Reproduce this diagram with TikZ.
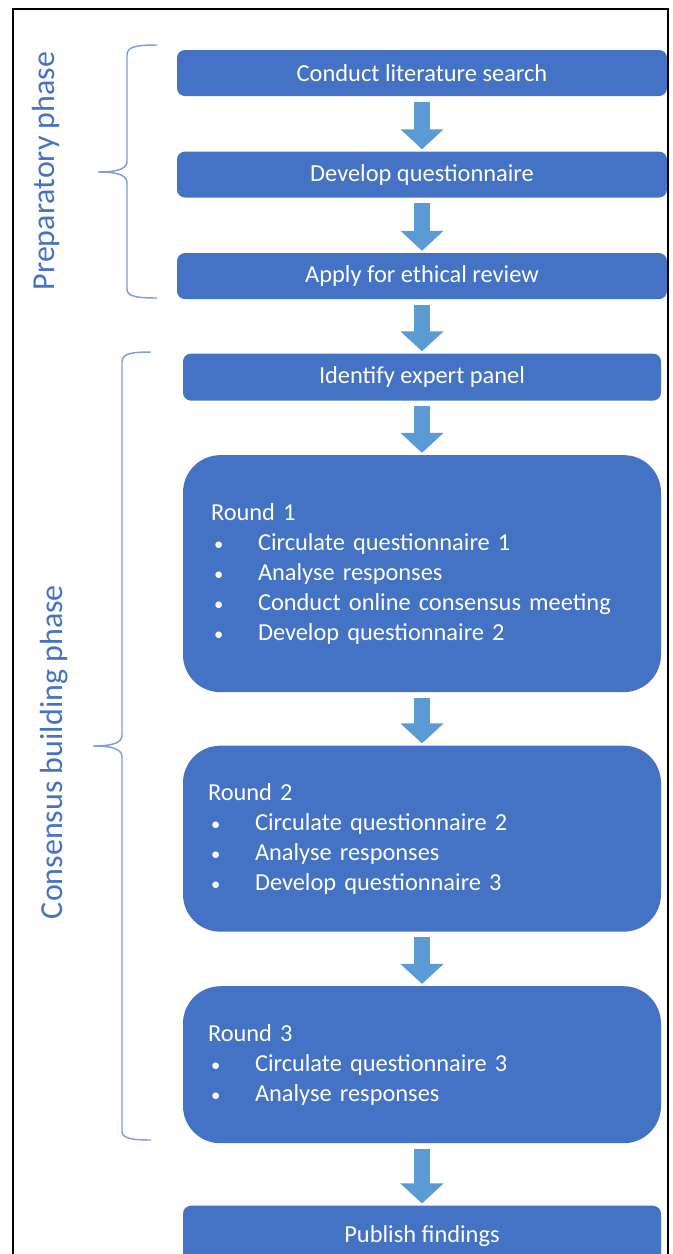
\documentclass[tikz,border=0pt]{standalone}
\usepackage{fontspec}
\setmainfont{Carlito}
\usepackage{xcolor}
\usetikzlibrary{arrows.meta, positioning}
\definecolor{boxblue}{HTML}{4472C4}
\definecolor{arrowblue}{HTML}{5B9BD5}
\definecolor{braceblue}{HTML}{7F9CDB}
\newcommand{\bulletline}[1]{\makebox[35.25pt][l]{\hspace{2.25pt}{\fontsize{14}{14}\selectfont\textbullet}}#1}
\tikzset{
  stepbox/.style={rectangle, fill=boxblue, text=white, minimum width=367.5pt, minimum height=34.5pt, rounded corners=6pt, align=center, font=\fontsize{18.3}{22.5}\selectfont},
  roundbox/.style={rectangle, fill=boxblue, text=white, text width=316.5pt, inner xsep=21pt, inner ysep=0pt, rounded corners=28pt, align=left, font=\fontsize{18.3}{22.5}\selectfont},
  flowarr/.style={draw=arrowblue, line width=12pt, -{Triangle[length=15pt, width=31.5pt]}, shorten <=4pt, shorten >=1.5pt},
  phaselabel/.style={rotate=90, anchor=base, text=boxblue, font=\fontsize{24}{28}\selectfont},
  bracket/.style={draw=braceblue, line width=1.1pt},
}

\begin{document}
\begin{tikzpicture}[x=0.75pt, y=-0.75pt]
  \useasboundingbox (0,0) rectangle (672,1254);
  \clip (0,0) rectangle (672,1254);

  % Preparatory steps
  \node[stepbox] (search) at (422,73) {Conduct literature search};
  \node[stepbox, below=41.25pt of search] (develop) {Develop questionnaire};
  \node[stepbox, below=41.25pt of develop] (ethics) {Apply for ethical review};

  % Consensus building steps
  \node[stepbox, minimum width=358.5pt, minimum height=35.25pt, below=40.5pt of ethics] (panel) {Identify expert panel};
  \node[roundbox, minimum height=177.75pt, below=40.5pt of panel] (round1) {Round 1\\
    \bulletline{Circulate questionnaire 1}\\
    \bulletline{Analyse responses}\\
    \bulletline{Conduct online consensus meeting}\\
    \bulletline{Develop questionnaire 2}};
  \node[roundbox, minimum height=139.5pt, text width=321pt, inner xsep=18.75pt, below=39.75pt of round1] (round2) {Round 2\\
    \bulletline{Circulate questionnaire 2}\\
    \bulletline{Analyse responses}\\
    \bulletline{Develop questionnaire 3}};
  \node[roundbox, minimum height=117.75pt, text width=321pt, inner xsep=18.75pt, below=40.5pt of round2] (round3) {Round 3\\
    \bulletline{Circulate questionnaire 3}\\
    \bulletline{Analyse responses}};
  \node[stepbox, minimum width=358.5pt, minimum height=45pt, below=46.5pt of round3] (publish) {Publish findings};

  % Arrows
  \draw[flowarr] (search) -- (develop);
  \draw[flowarr] (develop) -- (ethics);
  \draw[flowarr] (ethics) -- (panel);
  \draw[flowarr] (panel) -- (round1);
  \draw[flowarr] (round1) -- (round2);
  \draw[flowarr] (round2) -- (round3);
  \draw[flowarr] (round3) -- (publish);

  % Phase braces and labels
  \draw[bracket] (157,45) .. controls (135,45) and (127,47) .. (127,55) -- (127,161)
    .. controls (127,168) and (120,172) .. (98,172) .. controls (120,172) and (127,176) .. (127,183)
    -- (127,289) .. controls (127,296) and (135,298) .. (157,298);
  \draw[bracket] (151,352) .. controls (130,352) and (122,354) .. (122,362) -- (122,735)
    .. controls (122,742) and (115,746) .. (93,746) .. controls (115,746) and (122,750) .. (122,757)
    -- (122,1131) .. controls (122,1138) and (130,1140) .. (151,1140);
  \node[phaselabel] (prep) at (55,171) {Preparatory phase};
  \node[phaselabel] (consensus) at (62,752) {Consensus building phase};

  % Frame
  \draw[line width=1.5pt] (13,1260) -- (13,9) -- (668,9) -- (668,1260);
\end{tikzpicture}
\end{document}
